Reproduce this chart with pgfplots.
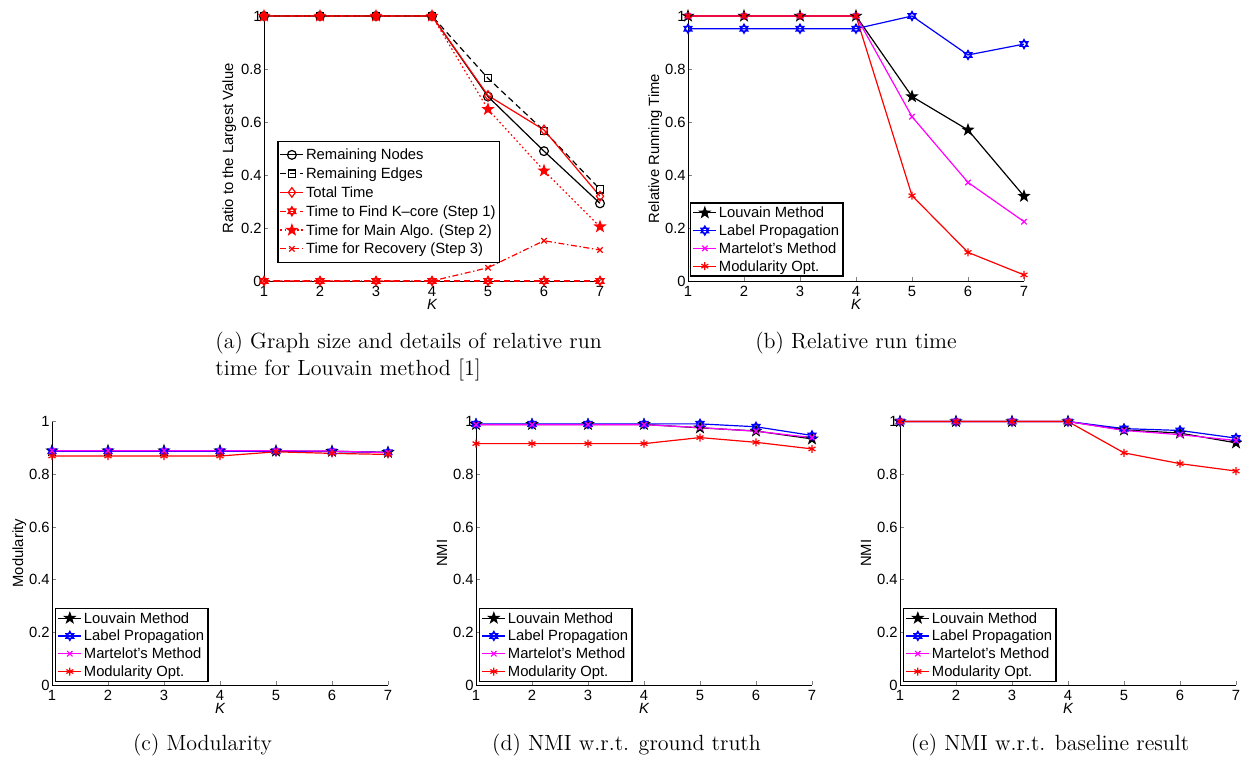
\documentclass[border=0pt]{standalone}
\usepackage{fontspec}
\newfontfamily\hv{Liberation Sans}
\usepackage{pgfplots}
\pgfplotsset{compat=1.18}
\usetikzlibrary{plotmarks}

\newcommand{\tf}{\hv\fontsize{7.4}{8.5}\selectfont}

\pgfdeclareplotmark{hexagram}{%
  \pgfpathmoveto{\pgfpointpolar{90}{\pgfplotmarksize}}%
  \pgfpathlineto{\pgfpointpolar{210}{\pgfplotmarksize}}%
  \pgfpathlineto{\pgfpointpolar{330}{\pgfplotmarksize}}%
  \pgfpathclose
  \pgfpathmoveto{\pgfpointpolar{270}{\pgfplotmarksize}}%
  \pgfpathlineto{\pgfpointpolar{30}{\pgfplotmarksize}}%
  \pgfpathlineto{\pgfpointpolar{150}{\pgfplotmarksize}}%
  \pgfpathclose
  \pgfusepathqstroke}
\pgfdeclareplotmark{pentagram}{%
  \pgfpathmoveto{\pgfpointpolar{90}{\pgfplotmarksize}}%
  \pgfpathlineto{\pgfpointpolar{126}{0.4\pgfplotmarksize}}%
  \pgfpathlineto{\pgfpointpolar{162}{\pgfplotmarksize}}%
  \pgfpathlineto{\pgfpointpolar{198}{0.4\pgfplotmarksize}}%
  \pgfpathlineto{\pgfpointpolar{234}{\pgfplotmarksize}}%
  \pgfpathlineto{\pgfpointpolar{270}{0.4\pgfplotmarksize}}%
  \pgfpathlineto{\pgfpointpolar{306}{\pgfplotmarksize}}%
  \pgfpathlineto{\pgfpointpolar{342}{0.4\pgfplotmarksize}}%
  \pgfpathlineto{\pgfpointpolar{18}{\pgfplotmarksize}}%
  \pgfpathlineto{\pgfpointpolar{54}{0.4\pgfplotmarksize}}%
  \pgfpathclose
  \pgfusepathqfillstroke}

\definecolor{mag}{rgb}{1,0,1}

\pgfplotsset{
  myax/.style={
    scale only axis, width=168pt,
    xmin=1, xmax=7, ymin=0, ymax=1,
    axis x line*=bottom, axis y line*=left,
    xtick={1,2,3,4,5,6,7}, ytick={0,0.2,0.4,0.6,0.8,1},
    tick align=inside, major tick length=2pt,
    tick label style={font=\tf},
    label style={font=\tf},
    /pgf/number format/assume math mode=true,
    xticklabel style={inner sep=0.5pt, yshift=-2pt},
    yticklabel style={inner sep=1pt},
    xlabel={\itshape K},
    xlabel style={at={(axis description cs:0.5,0)}, anchor=north, yshift=-9pt, inner sep=0pt},
    ylabel style={at={(axis description cs:-0.086,0.5)}, anchor=base, inner sep=0pt},
    clip=false,
    every axis plot/.append style={line width=0.6pt},
    legend cell align=left,
    legend style={font=\tf, anchor=south west, line width=0.7pt,
      inner xsep=1pt, inner ysep=-0.75pt, row sep=-2.5pt,
      nodes={inner ysep=1pt, inner xsep=1pt, text height=0.72em, text depth=0.22em}},
    legend image code/.code={\draw[line width=0.6pt, mark repeat=2, mark phase=2] plot coordinates {(0pt,0pt) (5.75pt,0pt) (11.5pt,0pt)};},
  },
  lou/.style={black, mark=pentagram, mark size=2.6pt, mark options={solid, fill=black}},
  lpr/.style={blue, mark=hexagram, mark size=2.3pt, mark options={solid}},
  mar/.style={mag, mark=x, mark size=1.9pt, mark options={solid}},
  mod/.style={red, mark=asterisk, mark size=2pt, mark options={solid}},
}

\begin{document}
\begin{tikzpicture}
\useasboundingbox (0,0) rectangle (621pt,378.5pt);

% (a)
\begin{axis}[myax, height=132.5pt, at={(132pt,238pt)}, anchor=south west,
  ylabel={Ratio to the Largest Value},
  ylabel style={at={(axis description cs:-0.092,0.5)}},
  legend style={at={(0.039,0.068)}, row sep=-2pt, inner ysep=1pt}]
\addplot[black, mark=o, mark size=2.2pt, mark options={solid}] coordinates {(1,1)(2,1)(3,1)(4,1)(5,0.696)(6,0.49)(7,0.293)};
\addlegendentry{Remaining Nodes}
\addplot[black, dash pattern=on 3pt off 2pt, mark=square, mark size=1.8pt, mark options={solid}] coordinates {(1,1)(2,1)(3,1)(4,1)(5,0.765)(6,0.567)(7,0.346)};
\addlegendentry{Remaining Edges}
\addplot[red, mark=diamond, mark size=2.4pt, mark options={solid}] coordinates {(1,1)(2,1)(3,1)(4,1)(5,0.70)(6,0.57)(7,0.32)};
\addlegendentry{Total Time}
\addplot[red, dash pattern=on 3pt off 2pt, mark=hexagram, mark size=2.3pt, mark options={solid}] coordinates {(1,0)(2,0)(3,0)(4,0)(5,0)(6,0)(7,0)};
\addlegendentry{Time to Find K–core (Step 1)}
\addplot[red, dash pattern=on 0.8pt off 1.3pt, mark=pentagram, mark size=2.6pt, mark options={solid, fill=red}] coordinates {(1,1)(2,1)(3,1)(4,1)(5,0.648)(6,0.416)(7,0.205)};
\addlegendentry{Time for Main Algo. (Step 2)}
\addplot[red, dash pattern=on 3pt off 1.3pt on 0.7pt off 1.3pt, mark=x, mark size=1.9pt, mark options={solid}] coordinates {(1,0)(2,0)(3,0)(4,0)(5,0.05)(6,0.152)(7,0.117)};
\addlegendentry{Time for Recovery (Step 3)}
\end{axis}

% (b)
\begin{axis}[myax, height=132.5pt, at={(344pt,238pt)}, anchor=south west,
  ylabel={Relative Running Time},
  legend style={at={(0.006,0.016)}}]
\addplot[lou] coordinates {(1,1)(2,1)(3,1)(4,1)(5,0.696)(6,0.57)(7,0.32)};
\addlegendentry{Louvain Method}
\addplot[lpr] coordinates {(1,0.952)(2,0.952)(3,0.952)(4,0.952)(5,1.0)(6,0.853)(7,0.894)};
\addlegendentry{Label Propagation}
\addplot[mar] coordinates {(1,1)(2,1)(3,1)(4,1)(5,0.62)(6,0.372)(7,0.224)};
\addlegendentry{Martelot’s Method}
\addplot[mod] coordinates {(1,1)(2,1)(3,1)(4,1)(5,0.322)(6,0.108)(7,0.023)};
\addlegendentry{Modularity Opt.}
\end{axis}

% (c)
\begin{axis}[myax, height=131.75pt, at={(26pt,36pt)}, anchor=south west,
  ylabel={Modularity},
  legend style={at={(0.009,0.011)}}]
\addplot[lou] coordinates {(1,0.889)(2,0.889)(3,0.889)(4,0.889)(5,0.888)(6,0.887)(7,0.883)};
\addlegendentry{Louvain Method}
\addplot[lpr] coordinates {(1,0.887)(2,0.887)(3,0.887)(4,0.887)(5,0.887)(6,0.886)(7,0.883)};
\addlegendentry{Label Propagation}
\addplot[mar] coordinates {(1,0.889)(2,0.889)(3,0.889)(4,0.889)(5,0.889)(6,0.888)(7,0.882)};
\addlegendentry{Martelot’s Method}
\addplot[mod] coordinates {(1,0.869)(2,0.869)(3,0.869)(4,0.869)(5,0.885)(6,0.879)(7,0.875)};
\addlegendentry{Modularity Opt.}
\end{axis}

% (d)
\begin{axis}[myax, height=131.75pt, at={(238pt,36pt)}, anchor=south west,
  ylabel={NMI},
  legend style={at={(0.009,0.011)}}]
\addplot[lou] coordinates {(1,0.989)(2,0.989)(3,0.989)(4,0.989)(5,0.976)(6,0.964)(7,0.934)};
\addlegendentry{Louvain Method}
\addplot[lpr] coordinates {(1,0.991)(2,0.991)(3,0.991)(4,0.991)(5,0.991)(6,0.980)(7,0.947)};
\addlegendentry{Label Propagation}
\addplot[mar] coordinates {(1,0.988)(2,0.988)(3,0.988)(4,0.988)(5,0.977)(6,0.963)(7,0.939)};
\addlegendentry{Martelot’s Method}
\addplot[mod] coordinates {(1,0.916)(2,0.916)(3,0.916)(4,0.916)(5,0.939)(6,0.921)(7,0.896)};
\addlegendentry{Modularity Opt.}
\end{axis}

% (e)
\begin{axis}[myax, height=131.75pt, at={(450pt,36pt)}, anchor=south west,
  ylabel={NMI},
  legend style={at={(0.009,0.011)}}]
\addplot[lou] coordinates {(1,1)(2,1)(3,1)(4,1)(5,0.968)(6,0.956)(7,0.919)};
\addlegendentry{Louvain Method}
\addplot[lpr] coordinates {(1,1)(2,1)(3,1)(4,1)(5,0.973)(6,0.966)(7,0.937)};
\addlegendentry{Label Propagation}
\addplot[mar] coordinates {(1,1)(2,1)(3,1)(4,1)(5,0.966)(6,0.950)(7,0.928)};
\addlegendentry{Martelot’s Method}
\addplot[mod] coordinates {(1,1)(2,1)(3,1)(4,1)(5,0.881)(6,0.840)(7,0.812)};
\addlegendentry{Modularity Opt.}
\end{axis}

% captions
\begin{scope}[every node/.style={font=\fontsize{11}{13.5}\selectfont, inner sep=0pt}]
\node[anchor=base west, align=left] at (107.5pt,191pt) {(a) Graph size and details of relative run\\time for Louvain method [1]};
\node[anchor=base] at (428pt,204.5pt) {(b) Relative run time};
\node[anchor=base] at (101.25pt,3.5pt) {(c) Modularity};
\node[anchor=base] at (313.25pt,3.5pt) {(d) NMI w.r.t. ground truth};
\node[anchor=base] at (525pt,3.5pt) {(e) NMI w.r.t. baseline result};
\end{scope}
\end{tikzpicture}
\end{document}
